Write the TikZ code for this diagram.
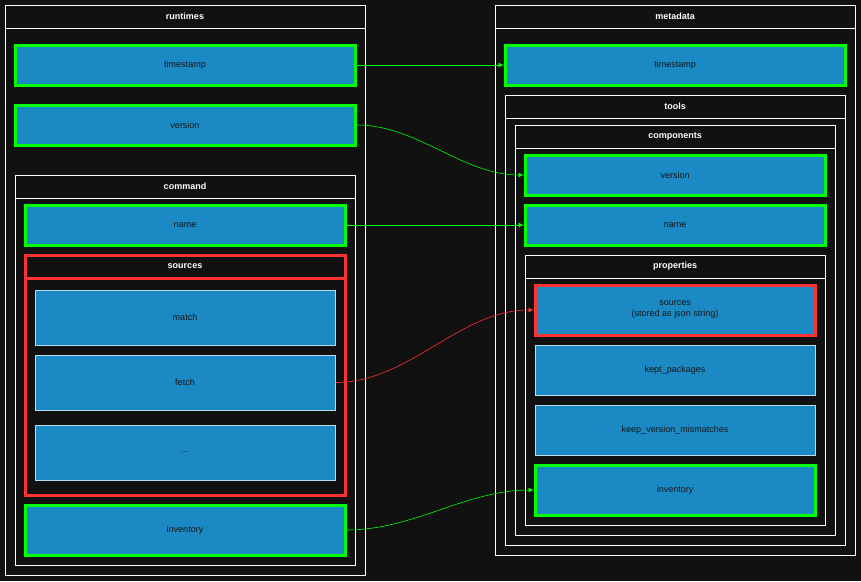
\documentclass[tikz,border=0pt]{standalone}
\usepackage{fontspec}
\setmainfont{Liberation Sans}
\usetikzlibrary{arrows.meta}
\definecolor{bgcolor}{RGB}{17,17,17}
\definecolor{leafcolor}{RGB}{27,138,196}
\definecolor{edgegreen}{RGB}{0,255,0}
\definecolor{edgered}{RGB}{255,51,51}
\definecolor{leaftext}{RGB}{20,20,20}
\begin{document}
\begin{tikzpicture}[x=1pt,y=1pt,yscale=-1,font=\fontsize{9}{11}\selectfont
,leaf/.style={draw=white!70!leafcolor,fill=leafcolor,text=leaftext,line width=0.5pt,inner sep=0pt,align=center}
,keyleaf/.style={leaf,draw=edgegreen,line width=3pt}
,srcleaf/.style={leaf,draw=edgered,line width=3pt}
,group/.style={draw=white,line width=0.8pt}
,gtitle/.style={text=white,font=\fontsize{9}{11}\selectfont\bfseries}
,link/.style={edgegreen,line width=0.6pt,-{Latex[length=5pt,width=5pt]}}
]
\fill[bgcolor] (0,0) rectangle (861,581);
% left side
\draw[group] (5,5) rectangle (365,575); \draw[group] (5,28) -- (365,28);
\node[gtitle] (runtimes) at (185,16.5) {runtimes};
\node[keyleaf,minimum width=340,minimum height=40] (rtime) at (185,65) {timestamp};
\node[keyleaf,minimum width=340,minimum height=40] (rversion) at (185,125) {version};
\draw[group] (15,175) rectangle (355,565); \draw[group] (15,198) -- (355,198);
\node[gtitle] (command) at (185,186.5) {command};
\node[keyleaf,minimum width=320,minimum height=40] (rname) at (185,225) {name};
\draw[edgered,line width=3pt] (25,255) rectangle (345,495); \draw[edgered,line width=3pt] (25,278) -- (345,278);
\node[gtitle] (rsources) at (185,266.5) {sources};
\node[leaf,minimum width=300,minimum height=55] (match) at (185,317.5) {match};
\node[leaf,minimum width=300,minimum height=55] (fetch) at (185,382.5) {fetch};
\node[leaf,minimum width=300,minimum height=55] (more) at (185,452.5) {...};
\node[keyleaf,minimum width=320,minimum height=50] (rinv) at (185,530) {inventory};
% right side
\draw[group] (495,5) rectangle (855,555); \draw[group] (495,28) -- (855,28);
\node[gtitle] (metadata) at (675,16.5) {metadata};
\node[keyleaf,minimum width=340,minimum height=40] (mtime) at (675,65) {timestamp};
\draw[group] (505,95) rectangle (845,545); \draw[group] (505,118) -- (845,118);
\node[gtitle] (tools) at (675,106.5) {tools};
\draw[group] (515,125) rectangle (835,535); \draw[group] (515,148) -- (835,148);
\node[gtitle] (components) at (675,136.5) {components};
\node[keyleaf,minimum width=300,minimum height=40] (mversion) at (675,175) {version};
\node[keyleaf,minimum width=300,minimum height=40] (mname) at (675,225) {name};
\draw[group] (525,255) rectangle (825,525); \draw[group] (525,278) -- (825,278);
\node[gtitle] (properties) at (675,266.5) {properties};
\node[srcleaf,minimum width=280,minimum height=50] (msources) at (675,310) {sources\\(stored as json string)};
\node[leaf,minimum width=280,minimum height=50] (kept) at (675,370) {kept\_packages};
\node[leaf,minimum width=280,minimum height=50] (keepmis) at (675,430) {keep\_version\_mismatches};
\node[keyleaf,minimum width=280,minimum height=50] (minv) at (675,490) {inventory};
% links
\draw[link] (rtime.east) -- (mtime.west);
\draw[link] (rversion.east) to[out=0,in=180,looseness=0.9] (mversion.west);
\draw[link] (rname.east) -- (mname.west);
\draw[link,edgered] (fetch.east) to[out=0,in=180,looseness=0.9] (msources.west);
\draw[link] (rinv.east) to[out=0,in=180,looseness=0.9] (minv.west);
\end{tikzpicture}
\end{document}
